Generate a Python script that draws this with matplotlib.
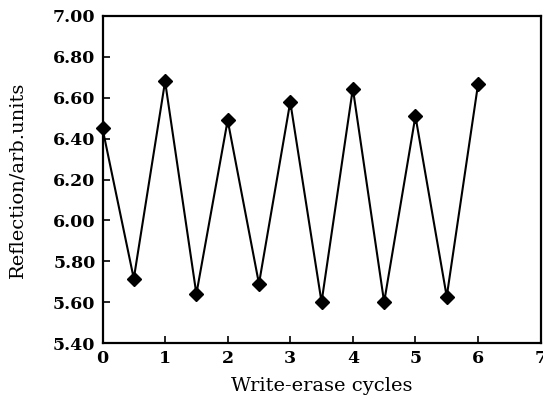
import matplotlib
matplotlib.use("Agg")
import matplotlib.pyplot as plt

cycles = [0, 0.5, 1, 1.5, 2, 2.5, 3, 3.5, 4, 4.5, 5, 5.5, 6]
reflection = [6.45, 5.715, 6.68, 5.64, 6.49, 5.69, 6.58, 5.60, 6.645, 5.60, 6.51, 5.627, 6.665]
xticks = [0, 1, 2, 3, 4, 5, 6, 7]
yticks = [5.40, 5.60, 5.80, 6.00, 6.20, 6.40, 6.60, 6.80, 7.00]

plt.rcParams['font.family'] = ['DejaVu Serif']
fig = plt.figure(figsize=(5.43, 3.95), dpi=100)
ax = fig.add_axes([102.5/543, 1 - 343/395, (540.6 - 102.5)/543, (343 - 16)/395])
ax.plot(cycles, reflection, color='black', lw=1.5, marker='D', ms=7.5,
        mfc='black', mec='black', clip_on=False, zorder=3)
ax.set_xlim(0, 7)
ax.set_ylim(5.40, 7.00)
ax.set_xticks(xticks)
ax.set_yticks(yticks)
ax.set_yticklabels([f"{v:.2f}" for v in yticks])
ax.tick_params(direction='in', length=5, width=1.2, labelsize=12.5, pad=5,
               top=False, right=False)
for lab in ax.get_xticklabels() + ax.get_yticklabels():
    lab.set_fontweight('semibold')
for s in ax.spines.values():
    s.set_linewidth(1.6)
ax.set_xlabel("Write-erase cycles", fontsize=14, labelpad=7)
ax.set_ylabel("Reflection/arb.units", fontsize=14, labelpad=19)
fig.savefig("out.png", dpi=100)
